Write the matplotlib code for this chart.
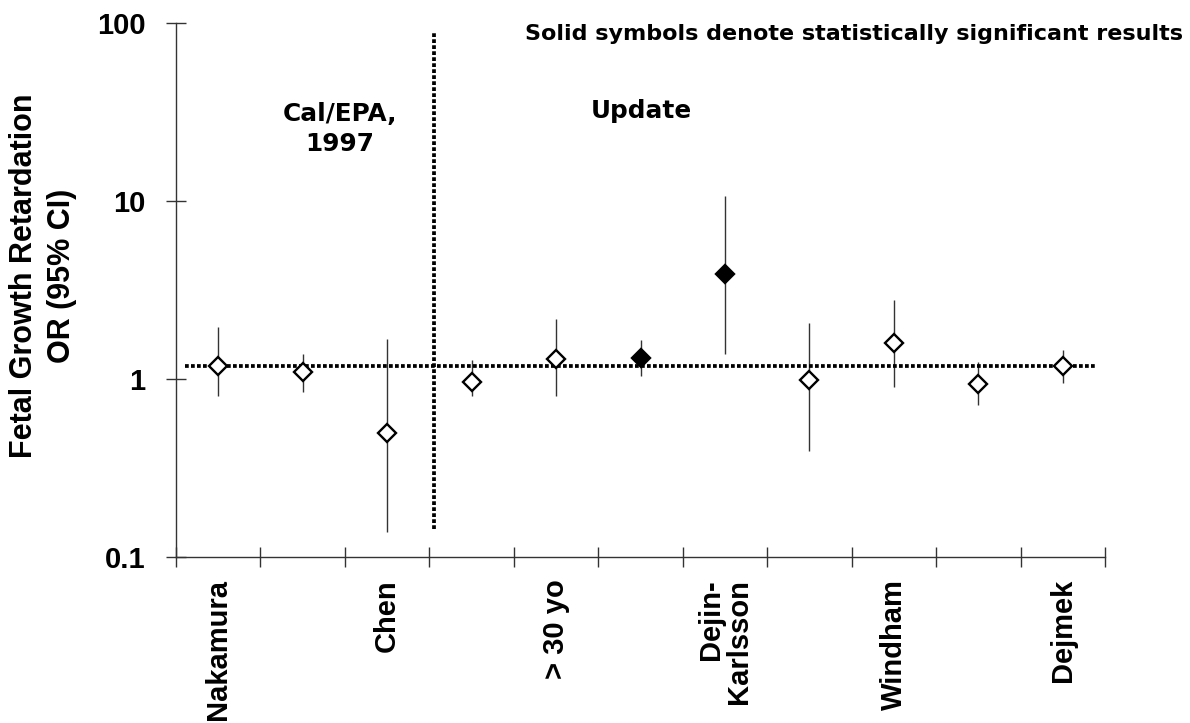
import matplotlib.pyplot as plt
import numpy as np

plt.rcParams['font.family'] = ['Liberation Sans', 'DejaVu Sans']

# study estimates (OR with 95% CI)
labels = ['Nakamura', '', 'Chen', '', '> 30 yo', '', 'Dejin-\nKarlsson', '', 'Windham', '', 'Dejmek']
odds = [1.19, 1.09, 0.50, 0.96, 1.29, 1.32, 3.9, 0.99, 1.59, 0.94, 1.18]
ci_low = [0.80, 0.84, 0.139, 0.80, 0.80, 1.04, 1.39, 0.395, 0.905, 0.71, 0.95]
ci_high = [1.97, 1.38, 1.68, 1.28, 2.16, 1.66, 10.6, 2.07, 2.77, 1.25, 1.45]
significant = [False, False, False, False, False, True, True, False, False, False, False]
ref_line = 1.19

W, H = 1190, 723
fig = plt.figure(figsize=(W/100, H/100), dpi=100)
ax = fig.add_axes([176/W, 1-557/H, (1105-176)/W, (557-23)/H])

x = np.arange(len(odds))
odds = np.array(odds)
ci_low = np.array(ci_low)
ci_high = np.array(ci_high)

ax.vlines(x, ci_low, ci_high, color='#333333', lw=1.0, zorder=2)

ax.plot([-0.39, 10.4], [ref_line, ref_line], color='black', lw=2.7,
        linestyle=(0, (1, 0.6)), dash_capstyle='butt', zorder=3)
ax.plot([2.56, 2.56], [0.144, 88], color='black', lw=2.7,
        linestyle=(0, (1, 0.6)), dash_capstyle='butt', zorder=3)

for xi, o, s in zip(x, odds, significant):
    ax.plot(xi, o, marker='D', ms=8.8, mec='black', mew=1.7,
            mfc='black' if s else 'white', zorder=4, linestyle='none')

ax.set_yscale('log')
ax.set_ylim(0.1, 100)
ax.set_xlim(-0.5, 10.5)
ax.set_yticks([0.1, 1, 10, 100])
ax.set_yticklabels(['0.1', '1', '10', '100'])
ax.yaxis.set_minor_locator(plt.NullLocator())
ax.set_xticks(np.arange(-0.5, 11, 1))
ax.set_xticklabels([])
ax.set_xticks(x, minor=True)
ax.set_xticklabels(labels, minor=True, rotation=90, fontsize=21,
                   fontweight='bold', va='top', ha='center', linespacing=1.0,
                   multialignment='right')
ax.tick_params(axis='x', which='minor', length=0, pad=16)
ax.tick_params(axis='x', which='major', direction='inout', length=14, width=1, color='#333333')
ax.tick_params(axis='y', which='major', direction='inout', length=14, width=1, color='#333333',
               labelsize=21, pad=15)
for lab in ax.get_yticklabels():
    lab.set_fontweight('bold')

for sp in ['top', 'right']:
    ax.spines[sp].set_visible(False)
for sp in ['left', 'bottom']:
    ax.spines[sp].set_color('#333333')
    ax.spines[sp].set_linewidth(1)

fig.text(43/W, 1-276/H, 'Fetal Growth Retardation\nOR (95% CI)', rotation=90,
         ha='center', va='center', fontsize=22, fontweight='bold', linespacing=1.37)

fig.text(1183/W, 1-34/H, 'Solid symbols denote statistically significant results',
         ha='right', va='center', fontsize=16, fontweight='bold', family='DejaVu Sans')
fig.text(340/W, 1-129/H, 'Cal/EPA,\n1997', ha='center', va='center',
         fontsize=17.8, fontweight='bold', linespacing=1.3, family='DejaVu Sans')
fig.text(641/W, 1-111/H, 'Update', ha='center', va='center',
         fontsize=17.8, fontweight='bold', family='DejaVu Sans')

fig.savefig('out.png', dpi=100)
